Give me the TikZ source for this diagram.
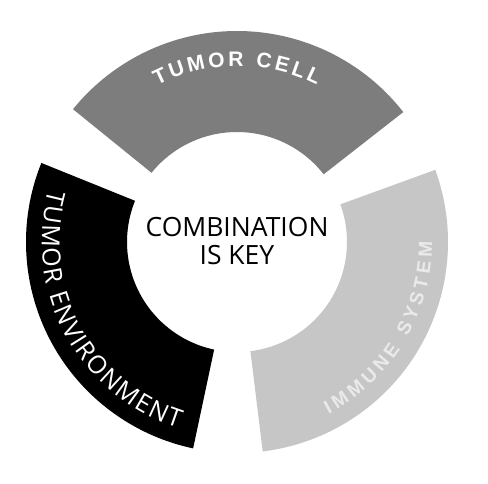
\documentclass[tikz,border=0pt]{standalone}
\usepackage{fontspec}
\setmainfont{Liberation Sans}
\newfontfamily\humfont{Open Sans}
\newfontfamily\labelbold{Liberation Sans Bold}
\newfontfamily\envfont{Open Sans}
\usetikzlibrary{decorations.text}
\definecolor{cellgray}{RGB}{125,125,125}
\definecolor{envblack}{RGB}{0,0,0}
\definecolor{immgray}{RGB}{198,198,198}
\definecolor{immtext}{RGB}{234,234,234}
\begin{document}
\begin{tikzpicture}[x=1pt,y=1pt,
  arclabel/.style={decorate, decoration={text along path, text align=fit to path, #1}},
  keytext/.style={font=\humfont\fontsize{26.5}{28}\selectfont, align=center, text=black}
]
\useasboundingbox (-237,-241) rectangle (251,242);
\fill[white] (-237,-241) rectangle (251,242);
\def\Ro{211}
\def\Ri{110}
% tumor cell segment
\fill[cellgray] (38:\Ro) arc[start angle=38,end angle=141,radius=\Ro] -- (141:\Ri) arc[start angle=141,end angle=38,radius=\Ri] -- cycle;
% tumor environment segment
\fill[envblack] (158:\Ro) arc[start angle=158,end angle=258,radius=\Ro] -- (258:\Ri) arc[start angle=258,end angle=158,radius=\Ri] -- cycle;
% immune system segment
\fill[immgray] (277:\Ro) arc[start angle=277,end angle=380,radius=\Ro] -- (380:\Ri) arc[start angle=380,end angle=277,radius=\Ri] -- cycle;
% labels along arcs
\path[arclabel={text={|\labelbold\fontsize{21}{21}\selectfont|TUMOR CELL}, text color=white}]
  (117:176) arc[start angle=117,end angle=63,radius=176];
\path[arclabel={text={|\envfont\fontsize{25}{25}\selectfont|TUMOR ENVIRONMENT}, text color=white}]
  (164.5:195) arc[start angle=164.5,end angle=252.5,radius=195];
\path[arclabel={text={|\labelbold\fontsize{19}{19}\selectfont|IMMUNE SYSTEM}, text color=immtext}]
  (298:195) arc[start angle=298,end angle=360,radius=195];
% centre text
\node[keytext] (key) at (0,1) {COMBINATION\\IS KEY};
\end{tikzpicture}
\end{document}
